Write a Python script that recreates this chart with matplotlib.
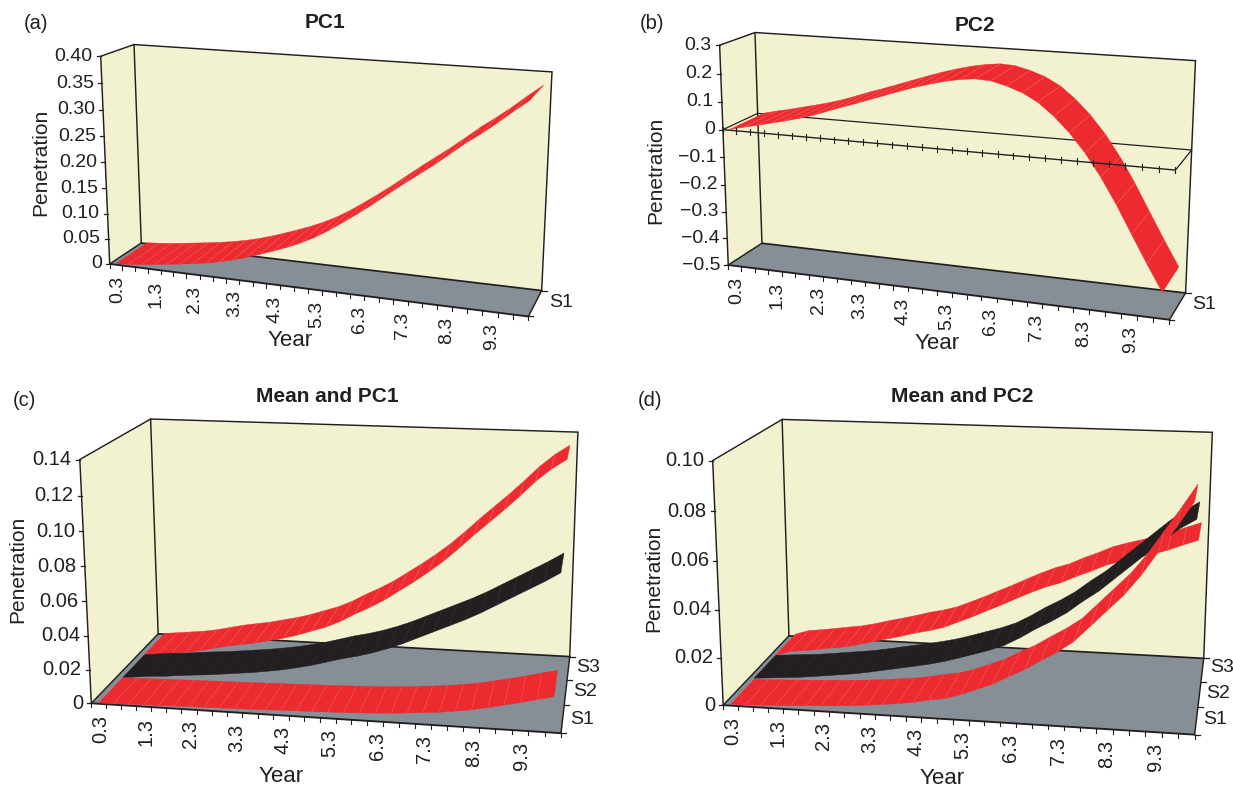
import numpy as np
import matplotlib
matplotlib.use("Agg")
import matplotlib.pyplot as plt

plt.rcParams['font.family'] = ['Liberation Sans', 'DejaVu Sans']

# ---------- data ----------
year_labels = ['0.3', '1.3', '2.3', '3.3', '4.3', '5.3', '6.3', '7.3', '8.3', '9.3']

pc1 = [.002, .004, .0065, .010, .0135, .017, .021, .0255, .031, .0375,
       .0455, .0545, .064, .074, .0855, .099, .115, .133, .1515, .171,
       .1915, .212, .2315, .251, .272, .2935, .3125, .333, .355, .376]

pc2 = [.003, .015, .026, .038, .05, .063, .078, .096, .114, .131,
       .149, .167, .185, .202, .217, .23, .24, .246, .243, .23,
       .212, .184, .143, .092, .03, -.045, -.131, -.226, -.32, -.41]

c_s1 = [.0005, .0007, .0009, .0011, .0013, .0015, .0017, .0019, .0021, .0023,
        .0025, .0027, .0030, .0032, .0034, .0037, .0040, .0043, .0048, .0053,
        .0060, .0068, .0076, .0088, .0102, .0120, .0140, .0160, .0183, .0204]
c_s2 = [.0005, .0015, .0025, .003, .004, .0048, .0055, .0065, .0075, .0085,
        .0098, .0112, .013, .015, .0175, .02, .022, .0245, .0275, .031,
        .035, .039, .043, .047, .0515, .0565, .0615, .0665, .0715, .077]
c_s3 = [.0005, .0015, .0025, .0035, .005, .007, .009, .0105, .012, .014,
        .016, .0185, .0215, .0245, .0285, .0335, .038, .043, .049, .055,
        .0615, .0685, .0765, .085, .093, .101, .1095, .1185, .126, .132]

d_s1 = [.0005, .0007, .0010, .0013, .0016, .0020, .0023, .0027, .0032, .0038,
        .0045, .0052, .0062, .0075, .0085, .0105, .0130, .0155, .0190, .0222,
        .0262, .0300, .0345, .0410, .0475, .0540, .0620, .0715, .0810, .0909]
d_s2 = [.001, .0015, .0020, .0025, .0032, .0040, .0048, .0056, .0067, .0079,
        .0091, .0103, .0116, .0131, .0150, .0170, .0190, .0215, .0250, .0290,
        .0325, .0365, .0415, .0460, .0515, .0570, .0625, .0680, .0730, .0769]
d_s3 = [.001, .003, .0038, .0047, .0057, .0066, .0080, .0097, .0112, .0128,
        .0146, .0160, .0178, .0205, .0232, .0262, .0291, .0322, .0352, .0379,
        .0400, .0430, .0456, .0485, .0505, .0522, .0540, .0560, .0585, .0608]

yt_a = [0, .05, .10, .15, .20, .25, .30, .35, .40]
yl_a = ['0', '0.05', '0.10', '0.15', '0.20', '0.25', '0.30', '0.35', '0.40']
yt_b = [-.5, -.4, -.3, -.2, -.1, 0, .1, .2, .3]
yl_b = ['\u22120.5', '\u22120.4', '\u22120.3', '\u22120.2', '\u22120.1', '0', '0.1', '0.2', '0.3']
yt_c = [0, .02, .04, .06, .08, .10, .12, .14]
yl_c = ['0', '0.02', '0.04', '0.06', '0.08', '0.10', '0.12', '0.14']
yt_d = [0, .02, .04, .06, .08, .10]
yl_d = ['0', '0.02', '0.04', '0.06', '0.08', '0.10']

# ---------- style ----------
RED, BLACK, WALL, FLOOR, INK = '#ed2a30', '#231f20', '#f3f2d0', '#878f96', '#231f20'
STRIPE = '#f4726a'
CATS = 30
W, H = 1233, 789

# frame corners in figure pixels (the chart's 3-D view)
PANELS = [
    dict(corners=dict(FBL=(110, 264), FTL=(100.7, 55.7), BTL=(134, 45), BBL=(141, 243),
                      BTR=(552, 72), BBR=(542, 290), FBR=(528, 317)),
         ticks=(yt_a, yl_a), series=[(pc1, RED)], depth=['S1'], title='PC1', tag='(a)', fs=14,
         tag_xy=(36, 23), title_xy=(325, 22), yl_xy=(41, 162), xl_xy=(290, 340),
         s_xy=[(561, 302)]),
    dict(corners=dict(FBL=(728.3, 265), FTL=(719.7, 45), BTL=(754.9, 32.7), BBL=(761.9, 243.3),
                      BTR=(1195.5, 60.7), BBR=(1185.7, 292.7), FBR=(1169.3, 320)),
         ticks=(yt_b, yl_b), series=[(pc2, RED)], depth=['S1'], title='PC2', tag='(b)', fs=14,
         tag_xy=(652, 23), title_xy=(975, 25), yl_xy=(656, 170), xl_xy=(937, 343),
         s_xy=[(1204, 304)]),
    dict(corners=dict(FBL=(91.8, 703.3), FTL=(79.6, 459), BTL=(150.8, 419.3), BBL=(157.7, 634),
                      BTR=(577.9, 432.3), BBR=(570, 656), FBR=(560.7, 733.7)),
         ticks=(yt_c, yl_c), series=[(c_s1, RED), (c_s2, BLACK), (c_s3, RED)],
         depth=['S1', 'S2', 'S3'], title='Mean and PC1', tag='(c)', fs=14.5,
         tag_xy=(24, 400.7), title_xy=(327, 396), yl_xy=(18, 569), xl_xy=(281, 777),
         s_xy=[(582, 720), (585.5, 692), (588, 668)]),
    dict(corners=dict(FBL=(723.2, 705), FTL=(712.6, 460.7), BTL=(782.2, 419.3), BBL=(788.9, 636),
                      BTR=(1212.3, 432.3), BBR=(1203.7, 658.3), FBR=(1194.7, 734.7)),
         ticks=(yt_d, yl_d), series=[(d_s1, RED), (d_s2, BLACK), (d_s3, RED)],
         depth=['S1', 'S2', 'S3'], title='Mean and PC2', tag='(d)', fs=14.5,
         tag_xy=(650, 400), title_xy=(962, 396), yl_xy=(654, 578), xl_xy=(942.5, 779),
         s_xy=[(1215, 720), (1218, 693), (1222, 668)]),
]

CUBE = dict(FBL=(0, 0, 0), FTL=(0, 0, 1), BTL=(0, 1, 1), BBL=(0, 1, 0),
            BTR=(1, 1, 1), BBR=(1, 1, 0), FBR=(1, 0, 0))


def fit_view(corners):
    rows = []
    for key, (px, py) in corners.items():
        X = np.array(list(CUBE[key]) + [1.0])
        u, v = px / 1000, py / 1000
        rows.append(np.r_[X, np.zeros(4), -u * X])
        rows.append(np.r_[np.zeros(4), X, -v * X])
    return np.linalg.svd(np.array(rows))[2][-1].reshape(3, 4)


def draw_panel(fig, spec):
    ax = fig.add_axes([0, 0, 1, 1], label=spec['title'])
    ax.set_xlim(0, W)
    ax.set_ylim(H, 0)
    ax.axis('off')
    ax.patch.set_visible(False)
    M = fit_view(spec['corners'])
    ticks, labels = spec['ticks']
    vmin, vmax = min(ticks), max(ticks)
    fs = spec['fs']

    def proj(t, d, v):
        t, d, v = np.broadcast_arrays(np.asarray(t, float), np.asarray(d, float), np.asarray(v, float))
        z = (v - vmin) / (vmax - vmin)
        X = np.stack([t, d, z, np.ones_like(t)], axis=-1)
        q = X @ M.T
        return q[..., 0] / q[..., 2] * 1000, q[..., 1] / q[..., 2] * 1000

    def line(p0, p1, lw=1.05, z=3):
        x0, y0 = proj(*p0)
        x1, y1 = proj(*p1)
        ax.plot([x0, x1], [y0, y1], color=INK, lw=lw, zorder=z, solid_capstyle='round')

    def quad(pts, color, z=1):
        xy = [proj(*p) for p in pts]
        ax.fill([a[0] for a in xy], [a[1] for a in xy], color=color, lw=0, zorder=z)

    # walls and floor
    quad([(0, 1, vmin), (1, 1, vmin), (1, 1, vmax), (0, 1, vmax)], WALL)
    quad([(0, 0, vmin), (0, 1, vmin), (0, 1, vmax), (0, 0, vmax)], WALL)
    quad([(0, 0, vmin), (1, 0, vmin), (1, 1, vmin), (0, 1, vmin)], FLOOR)

    # frame
    for a, b in [((0, 0, vmin), (0, 0, vmax)), ((0, 0, vmax), (0, 1, vmax)),
                 ((0, 1, vmax), (1, 1, vmax)), ((0, 1, vmin), (0, 1, vmax)),
                 ((1, 1, vmin), (1, 1, vmax)),
                 ((0, 0, vmin), (0, 1, vmin)), ((1, 0, vmin), (1, 1, vmin))]:
        line(a, b)
    line((0, 1, vmin), (1, 1, vmin), lw=1.25)
    line((0, 0, vmin), (1, 0, vmin), lw=1.35)

    # value ticks
    for v, lab in zip(ticks, labels):
        x, y = proj(0, 0, v)
        x, y = float(x), float(y)
        ax.plot([x - 4, x], [y, y], color=INK, lw=0.9, zorder=3)
        ax.text(x - 8, y, lab, ha='right', va='center', fontsize=fs, color=INK)

    # year ticks
    tt = np.arange(CATS + 1) / CATS
    xs, ys = proj(tt, 0, vmin)
    for x, y in zip(xs, ys):
        ax.plot([x, x], [y, y + 4], color=INK, lw=0.8, zorder=3)
    for i, lab in enumerate(year_labels):
        x, y = proj((3 * i + .5) / CATS, 0, vmin)
        ax.text(float(x) + 2, float(y) + 11, lab, rotation=90, ha='center', va='top',
                fontsize=fs, color=INK)

    # depth ticks and labels
    nd = len(spec['depth'])
    for k in range(nd + 1):
        x, y = proj(1, k / nd, vmin)
        ax.plot([float(x), float(x) + 5], [float(y), float(y)], color=INK, lw=0.9, zorder=3)
    for lab, (x, y) in zip(spec['depth'], spec['s_xy']):
        ax.text(x, y, lab, ha='center', va='center', fontsize=14, color=INK)

    # zero plane when the scale crosses zero
    if vmin < 0 < vmax:
        line((0, 1, 0), (1, 1, 0), lw=0.9, z=2)
        line((1, 1, 0), (1, 0, 0), lw=0.9, z=6)
        line((0, 0, 0), (0, 1, 0), lw=0.9, z=2)
        line((0, 0, 0), (1, 0, 0), lw=1.0, z=6)
        xs, ys = proj(tt, 0, 0)
        for x, y in zip(xs, ys):
            ax.plot([x, x], [y - 3, y + 3], color=INK, lw=0.8, zorder=6)

    # ribbons
    centres = (np.arange(CATS) + .5) / CATS
    for k, (vals, colour) in enumerate(spec['series']):
        z = 5 - k * 0.1
        vals = np.asarray(vals, float)
        fx, fy = proj(centres, k / nd, vals)
        bx, by = proj(centres, (k + 1) / nd, vals)
        for i in range(CATS - 1):
            ax.fill([fx[i], fx[i + 1], bx[i + 1], bx[i]], [fy[i], fy[i + 1], by[i + 1], by[i]],
                    facecolor=colour, edgecolor=colour, lw=0.3, zorder=z)
        if colour == RED:
            for i in range(1, CATS - 1):
                ax.plot([fx[i], bx[i]], [fy[i], by[i]], color=STRIPE, lw=0.28, zorder=z)

    # text
    ax.text(*spec['tag_xy'], spec['tag'], ha='center', va='center', fontsize=14.5, color=INK)
    ax.text(*spec['title_xy'], spec['title'], ha='center', va='center', fontsize=15,
            fontweight='bold', color=INK)
    ax.text(*spec['yl_xy'], 'Penetration', rotation=90, ha='center', va='center', fontsize=15, color=INK)
    ax.text(*spec['xl_xy'], 'Year', ha='center', va='center', fontsize=16, color=INK)


fig = plt.figure(figsize=(W / 100, H / 100), dpi=100, facecolor='white')
for spec in PANELS:
    draw_panel(fig, spec)
fig.savefig('out.png', dpi=100)
